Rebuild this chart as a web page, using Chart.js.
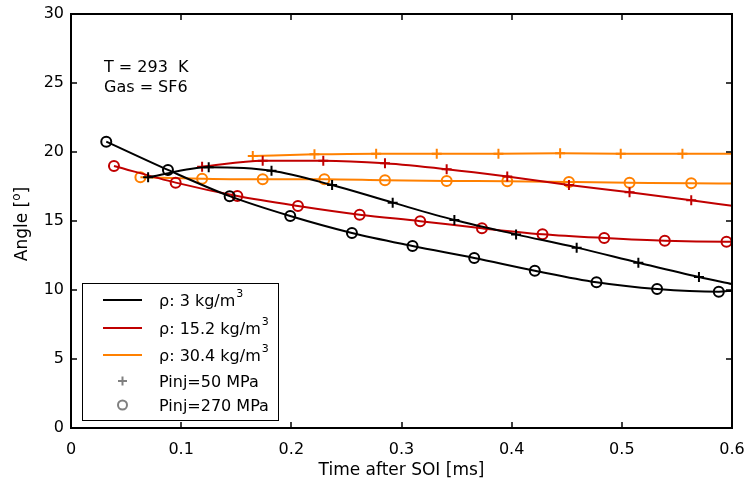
<!DOCTYPE html>
<html>
<head>
<meta charset="utf-8">
<script src="https://cdn.jsdelivr.net/npm/chart.js@4.4.0/dist/chart.umd.min.js"></script>
<style>
  html,body{margin:0;padding:0;background:#fff;}
</style>
</head>
<body>
<canvas id="chart" width="748" height="487"></canvas>
<script>
// ---- data (time after SOI [ms] / angle [deg]); last entry of each list is the line end, no marker ----
const t_3_270   = [0.032,0.088,0.144,0.199,0.255,0.310,0.366,0.421,0.477,0.532,0.588,0.600];
const ang_3_270 = [20.75,18.70,16.80,15.36,14.13,13.19,12.32,11.40,10.56,10.07,9.88,9.95];

const t_15_270   = [0.039,0.095,0.151,0.206,0.262,0.317,0.373,0.428,0.484,0.539,0.595,0.600];
const ang_15_270 = [18.99,17.78,16.81,16.09,15.46,14.99,14.47,14.04,13.77,13.57,13.50,13.50];

const t_30_270   = [0.063,0.119,0.174,0.230,0.285,0.341,0.396,0.452,0.507,0.563,0.600];
const ang_30_270 = [18.17,18.07,18.02,18.02,17.95,17.90,17.88,17.83,17.78,17.73,17.72];

const t_3_50   = [0.070,0.125,0.182,0.237,0.292,0.348,0.404,0.459,0.515,0.570,0.600];
const ang_3_50 = [18.17,18.89,18.64,17.61,16.33,15.07,14.03,13.07,11.98,10.94,10.43];

const t_15_50   = [0.119,0.174,0.229,0.285,0.341,0.396,0.452,0.507,0.563,0.600];
const ang_15_50 = [18.93,19.37,19.37,19.18,18.75,18.22,17.61,17.08,16.50,16.11];

const t_30_50   = [0.165,0.221,0.277,0.332,0.388,0.444,0.499,0.555,0.600];
const ang_30_50 = [19.71,19.83,19.88,19.88,19.88,19.91,19.88,19.88,19.88];

const legendLabels = ['ρ: 3 kg/m','ρ: 15.2 kg/m','ρ: 30.4 kg/m','Pinj=50 MPa','Pinj=270 MPa'];
const infoLines = ['T = 293  K','Gas = SF6'];
const xTitle = 'Time after SOI [ms]';

// ---- styling ----
const FONT = "'DejaVu Sans', sans-serif";
const BLACK = '#000000', RED = '#c00000', ORANGE = '#ff8000', GREY = '#808080';

function series(xs, ys, color, marker){
  const last = xs.length - 1;
  return {
    data: xs.map((x,i)=>({x, y: ys[i]})),
    showLine: true,
    borderColor: color,
    borderWidth: 2,
    pointStyle: marker,
    pointRadius: xs.map((_,i)=> i < last ? 5 : 0),
    pointBorderColor: color,
    pointBackgroundColor: 'rgba(0,0,0,0)',
    pointBorderWidth: 2,
    cubicInterpolationMode: 'monotone',
    fill: false
  };
}

// frame, inward ticks, titles, text, legend
const decor = {
  id: 'decor',
  afterDatasetsDraw(chart){
    const {ctx, chartArea:a, scales:{x, y}} = chart;
    ctx.save();
    ctx.strokeStyle = BLACK;
    ctx.lineWidth = 1.5;
    const seg = (x1,y1,x2,y2)=>{ ctx.beginPath(); ctx.moveTo(x1,y1); ctx.lineTo(x2,y2); ctx.stroke(); };
    x.ticks.forEach(t=>{
      const px = Math.round(x.getPixelForValue(t.value));
      seg(px, a.bottom, px, a.bottom-6);
      seg(px, a.top, px, a.top+6);
    });
    y.ticks.forEach(t=>{
      const py = Math.round(y.getPixelForValue(t.value));
      seg(a.left, py, a.left+6, py);
      seg(a.right, py, a.right-6, py);
    });
    ctx.lineWidth = 2;
    ctx.strokeRect(a.left, a.top, a.right-a.left, a.bottom-a.top);

    // info text
    ctx.fillStyle = BLACK;
    ctx.font = '16px ' + FONT;
    ctx.textAlign = 'left';
    ctx.textBaseline = 'alphabetic';
    ctx.fillText(infoLines[0], 104, 71.5);
    ctx.fillText(infoLines[1], 104, 91.5);

    // x title
    ctx.font = '17px ' + FONT;
    ctx.textAlign = 'center';
    ctx.fillText(xTitle, (a.left+a.right)/2, 475);

    // y title with superscript
    ctx.save();
    ctx.translate(27, (a.top+a.bottom)/2 + 3);
    ctx.rotate(-Math.PI/2);
    ctx.textAlign = 'left';
    const p1 = 'Angle [', p3 = ']';
    ctx.font = '17px ' + FONT;
    const w1 = ctx.measureText(p1).width, w3 = ctx.measureText(p3).width;
    ctx.font = '12px ' + FONT;
    const w2 = ctx.measureText('o').width;
    const x0 = -(w1+w2+w3)/2;
    ctx.font = '17px ' + FONT;
    ctx.fillText(p1, x0, 0);
    ctx.font = '12px ' + FONT;
    ctx.fillText('o', x0+w1, -7);
    ctx.font = '17px ' + FONT;
    ctx.fillText(p3, x0+w1+w2, 0);
    ctx.restore();

    // legend
    const lx = 82, ly = 283, lw = 196, lh = 137;
    ctx.fillStyle = '#fff';
    ctx.fillRect(lx, ly, lw, lh);
    ctx.lineWidth = 1;
    ctx.strokeStyle = BLACK;
    ctx.strokeRect(lx+0.5, ly+0.5, lw, lh);
    const rows = [300, 328, 355, 381, 405];
    const colors = [BLACK, RED, ORANGE];
    ctx.lineWidth = 2;
    colors.forEach((c,i)=>{
      ctx.strokeStyle = c;
      seg(103, rows[i], 142, rows[i]);
    });
    ctx.strokeStyle = GREY;
    seg(118, rows[3], 127, rows[3]);
    seg(122.5, rows[3]-4.5, 122.5, rows[3]+4.5);
    ctx.beginPath(); ctx.arc(122.5, rows[4], 4.5, 0, Math.PI*2); ctx.stroke();

    ctx.fillStyle = BLACK;
    ctx.textAlign = 'left';
    legendLabels.forEach((s,i)=>{
      ctx.font = '16px ' + FONT;
      ctx.fillText(s, 159, rows[i]+6);
      if(i < 3){
        const w = ctx.measureText(s).width;
        ctx.font = '11px ' + FONT;
        ctx.fillText('3', 159+w+1, rows[i]-3);
      }
    });
    ctx.restore();
  }
};

new Chart(document.getElementById('chart').getContext('2d'), {
  type: 'scatter',
  data: {
    datasets: [
      series(t_3_50,   ang_3_50,   BLACK,  'cross'),
      series(t_15_50,  ang_15_50,  RED,    'cross'),
      series(t_30_50,  ang_30_50,  ORANGE, 'cross'),
      series(t_3_270,  ang_3_270,  BLACK,  'circle'),
      series(t_15_270, ang_15_270, RED,    'circle'),
      series(t_30_270, ang_30_270, ORANGE, 'circle')
    ]
  },
  options: {
    responsive: false,
    animation: false,
    layout: { padding: { top: 14, right: 16, left: 0, bottom: 0 } },
    plugins: { legend: { display: false }, tooltip: { enabled: false } },
    scales: {
      x: {
        type: 'linear', min: 0, max: 0.6,
        grid: { display: false, drawTicks: false },
        border: { display: false },
        ticks: { stepSize: 0.1, padding: 12, color: BLACK, font: { family: FONT, size: 16 },
                 callback: v => String(+v.toFixed(1)) },
        afterFit: s => { s.height = 59; s.paddingLeft = 0; s.paddingRight = 0; }
      },
      y: {
        min: 0, max: 30,
        grid: { display: false, drawTicks: false },
        border: { display: false },
        ticks: { stepSize: 5, padding: 7, color: BLACK, font: { family: FONT, size: 16 } },
        afterFit: s => { s.width = 71; s.paddingTop = 0; s.paddingBottom = 0; }
      }
    }
  },
  plugins: [decor]
});
</script>
</body>
</html>
